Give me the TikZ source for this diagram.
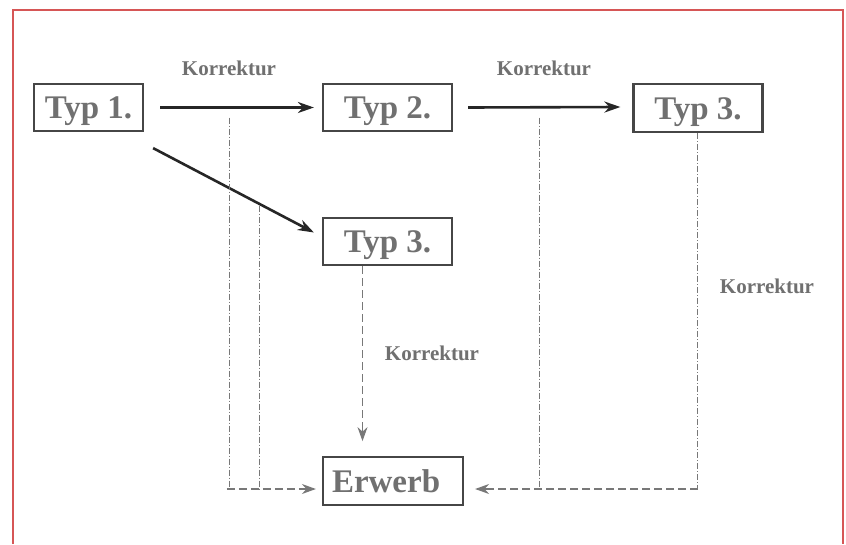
\documentclass[tikz,border=0pt]{standalone}
\usepackage{fontspec}
\setmainfont{Liberation Serif}
\usetikzlibrary{arrows.meta,calc}
\definecolor{frame}{RGB}{214,86,86}
\definecolor{txt}{RGB}{112,112,112}
\definecolor{boxline}{RGB}{70,70,70}
\definecolor{dline}{RGB}{120,120,120}
\tikzset{
  typbox/.style={draw=boxline,line width=2.2pt,minimum width=129pt,minimum height=47pt,
    inner sep=0pt,text=txt,font=\fontsize{33}{35}\selectfont\bfseries,
    text height=26pt,text depth=3.5pt},
  lbl/.style={text=txt,font=\fontsize{21}{23}\selectfont\bfseries,inner sep=0pt},
  mainarrow/.style={line width=2.6pt,draw=black!85,-{Stealth[length=16pt,width=11pt]}},
  dashdotline/.style={dline,line width=1pt,dash pattern=on 6pt off 2pt on 1pt off 2pt},
  dashline/.style={dline,line width=1.2pt,dash pattern=on 8pt off 4pt},
  dashtip/.style={-{Stealth[length=14pt,width=10pt]},draw=dline,fill=dline!70!black}
}
\begin{document}
\begin{tikzpicture}[x=1pt,y=-1pt]
\useasboundingbox (0,0) rectangle (846,544);
\fill[white] (0,0) rectangle (846,544);
\draw[frame,line width=2pt] (13,544) -- (13,10) -- (843,10) -- (843,544);

\node[typbox,minimum width=109pt] (t1) at (88.5,107.5) {Typ 1.};
\node[typbox] (t2) at (387.5,107.5) {Typ 2.};
\node[typbox,minimum height=48pt] (t3a) at (698,108) {Typ 3.};
\node[typbox] (t3b) at (387.5,241.5) {Typ 3.};
\node[typbox,minimum width=140pt,minimum height=48pt,text width=122pt,align=left] (er) at (393,481) {Erwerb};

\node[lbl] (k1) at (229,68) {Korrektur};
\node[lbl] (k2) at (544,68) {Korrektur};
\node[lbl] (k3) at (767,286) {Korrektur};
\node[lbl] (k4) at (432,353) {Korrektur};

% main arrows
\draw[mainarrow] ($(t1.east)+(16,0)$) -- ($(t2.west)+(-8,0)$);
\draw[mainarrow] ($(t2.east)+(15,0)$) -- ($(t3a.west)+(-12,-1)$);
\draw[mainarrow] ($(t1.south east)+(9,16)$) -- ($(t3b.west)+(-8,-9)$);

% correction lines
\coordinate (a1) at ($(t1.east)+(85,10)$);
\coordinate (a2) at ($(t1.east)+(115,98)$);
\coordinate (b1) at ($(t2.east)+(86,10)$);
\coordinate (c1) at ($(t3a.south)+(-1,0)$);
\coordinate (lb) at ($(er.west)+(-95,8)$);
\coordinate (rb) at ($(er.east)+(234,8)$);

\draw[dashdotline] (a1) -- (a1 |- lb);
\draw[dashdotline] (a2) -- (a2 |- lb);
\draw[dashdotline] (b1) -- (b1 |- rb);
\draw[dashdotline] (c1) -- (c1 |- rb);

\draw[dashline] (lb) -- ($(er.west)+(-20,8)$);
\draw[dashline,dashtip] ($(er.west)+(-20,8)$) -- ($(er.west)+(-6,8)$);
\draw[dashline] (rb) -- ($(er.east)+(26,8)$);
\draw[dashline,dashtip] ($(er.east)+(26,8)$) -- ($(er.east)+(11,8)$);

\draw[dashline] ($(t3b.south)+(-25,0)$) -- ($(t3b.south)+(-25,158)$);
\draw[dashline,dashtip] ($(t3b.south)+(-25,158)$) -- ($(t3b.south)+(-25,175)$);
\end{tikzpicture}
\end{document}
